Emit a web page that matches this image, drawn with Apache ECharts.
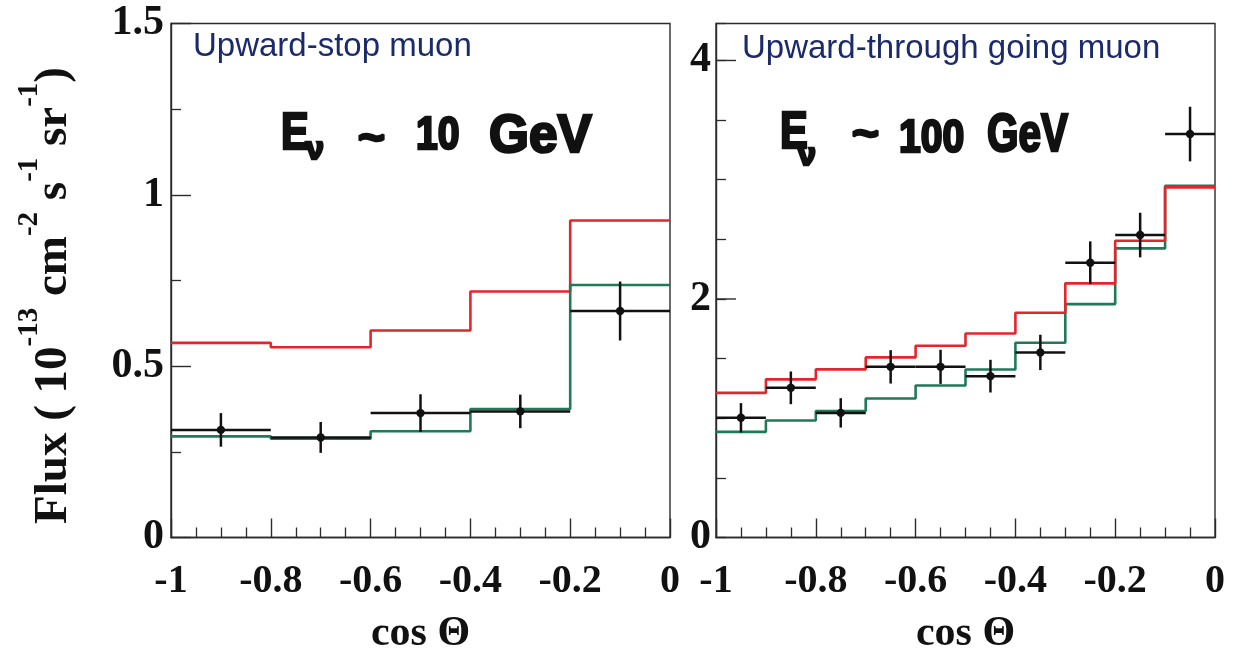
<!DOCTYPE html>
<html>
<head>
<meta charset="utf-8">
<script src="https://cdn.jsdelivr.net/npm/echarts@6/dist/echarts.min.js"></script>
<style>
  html, body { margin: 0; padding: 0; background: #ffffff; }
  #chart { width: 1236px; height: 662px; }
</style>
</head>
<body>
<div id="chart"></div>
<script>
// Upward-stopping muons: five bins in cos(theta), each 0.2 wide
const stopBinEdges = [-1, -0.8, -0.6, -0.4, -0.2, 0];
const stopRed   = [0.568, 0.555, 0.604, 0.718, 0.925];
const stopGreen = [0.295, 0.288, 0.310, 0.375, 0.737];
const stopData  = [0.314, 0.292, 0.363, 0.368, 0.661];
const stopErr   = [0.049, 0.045, 0.055, 0.049, 0.086];

// Upward through-going muons: ten bins in cos(theta), each 0.1 wide
const thruBinEdges = [-1, -0.9, -0.8, -0.7, -0.6, -0.5, -0.4, -0.3, -0.2, -0.1, 0];
const thruRed   = [1.213, 1.326, 1.410, 1.510, 1.608, 1.711, 1.884, 2.131, 2.488, 2.936];
const thruGreen = [0.886, 0.981, 1.060, 1.165, 1.275, 1.409, 1.633, 1.957, 2.424, 2.950];
const thruData  = [1.004, 1.255, 1.045, 1.431, 1.431, 1.353, 1.552, 2.304, 2.536, 3.383];
const thruErr   = [0.123, 0.137, 0.123, 0.140, 0.143, 0.137, 0.148, 0.179, 0.187, 0.229];

// Tick labels
const cosTicks  = [-1, -0.8, -0.6, -0.4, -0.2, 0];
const stopYTicks = [0, 0.5, 1, 1.5];
const thruYTicks = [0, 2, 4];

const panelTitles = ['Upward-stop muon', 'Upward-through going muon'];
const energyNotes = [['E', 'ν', '~', '10', 'GeV'], ['E', 'ν', '~', '100', 'GeV']];
const xTitle = 'cos Θ';

const RED = '#e2262b';
const GREEN = '#1f7a58';
const INK = '#111111';
const FRAME = '#2b2b2b';
const SERIF = '"Liberation Serif", "Times New Roman", serif';
const SANS = '"Liberation Sans", Arial, sans-serif';

// Histogram outline: one point per lower bin edge, plus the closing edge
function stepPoints(edges, vals) {
  return edges.map((e, i) => [e, vals[Math.min(i, vals.length - 1)]]);
}

function histSeries(xi, yi, edges, vals, color, z) {
  return {
    type: 'line', xAxisIndex: xi, yAxisIndex: yi, step: 'end',
    data: stepPoints(edges, vals), symbol: 'none', z: z,
    lineStyle: { color: color, width: 2.6 }, silent: true, animation: false
  };
}

// Data points with bin-wide horizontal bars and vertical error bars
function errorSeries(xi, yi, edges, vals, errs) {
  const data = vals.map((v, i) => [edges[i], edges[i + 1], v, errs[i]]);
  return {
    type: 'custom', xAxisIndex: xi, yAxisIndex: yi, z: 10, animation: false,
    data: data,
    renderItem: function (params, api) {
      const x0 = api.value(0), x1 = api.value(1), y = api.value(2), e = api.value(3);
      const xc = (x0 + x1) / 2;
      const a = api.coord([x0, y]), b = api.coord([x1, y]);
      const c = api.coord([xc, y]);
      const top = api.coord([xc, y + e]), bot = api.coord([xc, y - e]);
      const st = { stroke: INK, lineWidth: 2.5 };
      return {
        type: 'group',
        children: [
          { type: 'line', shape: { x1: a[0], y1: a[1], x2: b[0], y2: b[1] }, style: st },
          { type: 'line', shape: { x1: top[0], y1: top[1], x2: bot[0], y2: bot[1] }, style: st },
          { type: 'circle', shape: { cx: c[0], cy: c[1], r: 4.2 }, style: { fill: INK } }
        ]
      };
    }
  };
}

// Long ticks at the labelled values of the right-panel y axis
function majorTickSeries(xi, yi, values) {
  return {
    type: 'custom', xAxisIndex: xi, yAxisIndex: yi, z: 12, animation: false, silent: true,
    clip: false,
    data: values.filter(v => v > 0).map(v => [-1, v]),
    renderItem: function (params, api) {
      const p = api.coord([api.value(0), api.value(1)]);
      return { type: 'line', shape: { x1: p[0], y1: p[1], x2: p[0] + 20, y2: p[1] },
        style: { stroke: FRAME, lineWidth: 1.4 } };
    }
  };
}

function xAxisFor(gridIndex) {
  return {
    type: 'value', gridIndex: gridIndex, min: -1, max: 0, interval: 0.2,
    name: xTitle, nameLocation: 'middle', nameGap: 76,
    nameTextStyle: { fontFamily: SERIF, fontWeight: 'bold', fontSize: 42, color: INK },
    axisLine: { show: true, onZero: false, lineStyle: { color: FRAME, width: 1.4 } },
    axisTick: { show: true, inside: true, length: 19, lineStyle: { color: FRAME, width: 1.4 } },
    minorTick: { show: true, splitNumber: 4, length: 10, lineStyle: { color: FRAME, width: 1.3 } },
    splitLine: { show: false }, minorSplitLine: { show: false },
    axisLabel: {
      margin: 24, fontFamily: SERIF, fontWeight: 'bold', fontSize: 40, color: INK,
      showMinLabel: true, showMaxLabel: true,
      formatter: v => (cosTicks.some(t => Math.abs(t - v) < 1e-9) ? String(+v.toFixed(1)) : '')
    }
  };
}

const chart = echarts.init(document.getElementById('chart'), null, { renderer: 'canvas' });

const gridCommon = { top: 23.5, height: 514, width: 499, show: true,
  borderColor: FRAME, borderWidth: 1.4, backgroundColor: 'transparent' };

// Handwritten-style energy notes
function noteElements(parts, pos) {
  const font = (s) => 'bold ' + s + 'px ' + SANS;
  const items = [
    { t: parts[0], x: pos.E[0], y: pos.E[1], s: 52, sx: 0.8 },
    { t: parts[1], x: pos.nu[0], y: pos.nu[1], s: 32, sx: 1 },
    { t: parts[2], x: pos.tilde[0], y: pos.tilde[1], s: 42, sx: 1.1 },
    { t: parts[3], x: pos.num[0], y: pos.num[1], s: 46, sx: pos.numSx },
    { t: parts[4], x: pos.unit[0], y: pos.unit[1], s: 54, sx: pos.unitSx }
  ];
  return items.map(it => ({
    type: 'text', x: it.x, y: it.y, scaleX: it.sx, z: 20,
    style: {
      text: it.t, font: font(it.s), fill: INK, stroke: INK, lineWidth: 2.6,
      align: 'left', verticalAlign: 'middle', textAlign: 'left', textVerticalAlign: 'middle'
    }
  }));
}

const option = {
  backgroundColor: '#ffffff',
  animation: false,
  grid: [
    Object.assign({ left: 171 }, gridCommon),
    Object.assign({ left: 716 }, gridCommon)
  ],
  xAxis: [xAxisFor(0), xAxisFor(1)],
  yAxis: [
    {
      type: 'value', gridIndex: 0, min: 0, max: 1.5, interval: 0.5,
      name: '{b|Flux ( 10}{s|-13}{b| cm}{s|-2}{b| s}{s|-1}{b| sr}{s|-1}{b|)}',
      nameLocation: 'middle', nameRotate: 90, nameGap: 94,
      nameTextStyle: {
        padding: [0, 30, 0, 0],
        rich: {
          b: { fontFamily: SERIF, fontWeight: 'bold', fontSize: 47, color: INK, lineHeight: 62, verticalAlign: 'bottom' },
          s: { fontFamily: SERIF, fontWeight: 'bold', fontSize: 29, color: INK, lineHeight: 29, verticalAlign: 'top' }
        }
      },
      axisLine: { show: true, onZero: false, lineStyle: { color: FRAME, width: 1.4 } },
      axisTick: { show: true, inside: true, length: 20, lineStyle: { color: FRAME, width: 1.4 } },
      minorTick: { show: true, splitNumber: 2, length: 10, lineStyle: { color: FRAME, width: 1.3 } },
      splitLine: { show: false }, minorSplitLine: { show: false },
      axisLabel: {
        margin: 7, fontFamily: SERIF, fontWeight: 'bold', fontSize: 42, color: INK,
        showMinLabel: true, showMaxLabel: true,
        formatter: v => (stopYTicks.some(t => Math.abs(t - v) < 1e-9) ? String(v) : '')
      }
    },
    {
      // right panel: half-unit ticks, labels only at the main values
      type: 'value', gridIndex: 1, position: 'left', min: 0, max: 4.31, interval: 0.5,
      axisLine: { show: true, onZero: false, lineStyle: { color: FRAME, width: 1.4 } },
      axisTick: { show: true, inside: true, length: 10, lineStyle: { color: FRAME, width: 1.3 } },
      splitLine: { show: false },
      axisLabel: {
        margin: 5, fontFamily: SERIF, fontWeight: 'bold', fontSize: 42, color: INK,
        showMinLabel: true, showMaxLabel: true,
        formatter: v => (thruYTicks.some(t => Math.abs(t - v) < 1e-9) ? String(v) : '')
      }
    }
  ],
  series: [
    histSeries(0, 0, stopBinEdges, stopRed, RED, 3),
    histSeries(0, 0, stopBinEdges, stopGreen, GREEN, 4),
    errorSeries(0, 0, stopBinEdges, stopData, stopErr),
    histSeries(1, 1, thruBinEdges, thruGreen, GREEN, 3),
    histSeries(1, 1, thruBinEdges, thruRed, RED, 4),
    errorSeries(1, 1, thruBinEdges, thruData, thruErr),
    majorTickSeries(1, 1, thruYTicks)
  ],
  graphic: [
    {
      type: 'text', x: 193, y: 47, z: 20,
      style: { text: panelTitles[0], font: '33px ' + SANS, fill: '#1b2a6b',
        align: 'left', verticalAlign: 'middle', textAlign: 'left', textVerticalAlign: 'middle' }
    },
    {
      type: 'text', x: 742, y: 49, z: 20,
      style: { text: panelTitles[1], font: '33px ' + SANS, fill: '#1b2a6b',
        align: 'left', verticalAlign: 'middle', textAlign: 'left', textVerticalAlign: 'middle' }
    }
  ].concat(
    noteElements(energyNotes[0], { E: [281, 135], nu: [306, 150], tilde: [358, 140], num: [416, 136], numSx: 0.85, unit: [489, 137], unitSx: 0.95 }),
    noteElements(energyNotes[1], { E: [780, 134], nu: [798, 156], tilde: [852, 136], num: [899, 139], numSx: 0.85, unit: [987, 136], unitSx: 0.75 })
  )
};

chart.setOption(option);
</script>
</body>
</html>
